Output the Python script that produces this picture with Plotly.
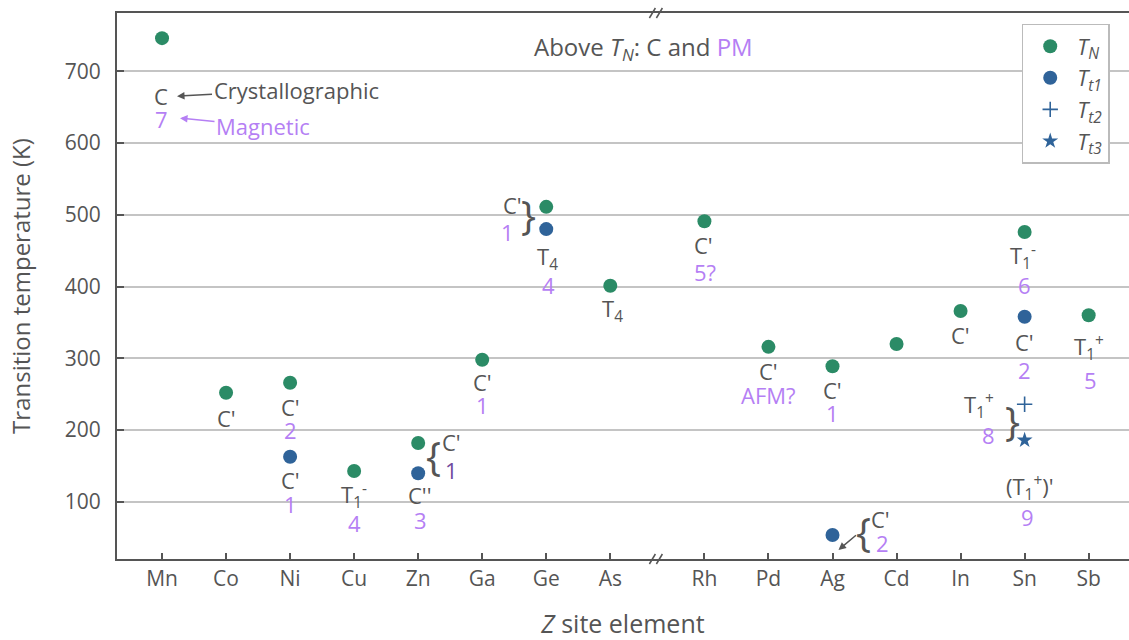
import plotly.graph_objects as go

# Z-site elements along the x axis (axis break between As and Rh)
elements = ["Mn", "Co", "Ni", "Cu", "Zn", "Ga", "Ge", "As",
            "Rh", "Pd", "Ag", "Cd", "In", "Sn", "Sb"]
BREAK_AFTER = "As"
BREAK_GAP = 0.47

# Transition temperatures (K)
t_n = [746, 252, 266, 143, 182, 298, 511, 401, 491, 316, 289, 320, 366, 476, 360]
tt1_elements = ["Ni", "Zn", "Ge", "Ag", "Sn"]
tt1 = [163, 140, 480, 54, 358]
tt2_elements = ["Sn"]
tt2 = [236]
tt3_elements = ["Sn"]
tt3 = [186]

y_ticks = [100, 200, 300, 400, 500, 600, 700]

GREEN = "#2b8b66"
BLUE = "#2f6399"
GREY = "#555555"
PURPLE = "#b57ff4"
DARK_PURPLE = "#6f4a9e"
FONT = "Open Sans"
LABEL_SIZE = 22


def xpos(el):
    i = elements.index(el)
    return i + (BREAK_GAP if i > elements.index(BREAK_AFTER) else 0)


series = {
    "TN": dict(zip(elements, t_n)),
    "Tt1": dict(zip(tt1_elements, tt1)),
    "Tt2": dict(zip(tt2_elements, tt2)),
    "Tt3": dict(zip(tt3_elements, tt3)),
}

# Crystallographic (grey) and magnetic (purple) structure labels:
# (element, series, text, role, dx px, dy px below the point)
labels = [
    ("Mn", "TN", "C", "c", -1, 58),
    ("Mn", "TN", "7", "m", -1, 81),
    ("Co", "TN", "C'", "c", 0, 25),
    ("Ni", "TN", "C'", "c", 0, 24),
    ("Ni", "TN", "2", "m", 0, 47),
    ("Ni", "Tt1", "C'", "c", 0, 23),
    ("Ni", "Tt1", "1", "m", 0, 47),
    ("Cu", "TN", "T<sub>1</sub><sup>-</sup>", "c", 0, 24),
    ("Cu", "TN", "4", "m", 0, 52),
    ("Zn", "TN", "C'", "c", 33, -1),
    ("Zn", "TN", "1", "m2", 33, 27),
    ("Zn", "Tt1", "C''", "c", 2, 22),
    ("Zn", "Tt1", "3", "m", 2, 47),
    ("Ga", "TN", "C'", "c", 0, 22),
    ("Ga", "TN", "1", "m", 0, 45),
    ("Ge", "TN", "C'", "c", -34, -2),
    ("Ge", "TN", "1", "m", -39, 25),
    ("Ge", "Tt1", "T<sub>4</sub>", "c", 1, 29),
    ("Ge", "Tt1", "4", "m", 2, 56),
    ("As", "TN", "T<sub>4</sub>", "c", 2, 24),
    ("Rh", "TN", "C'", "c", -1, 24),
    ("Rh", "TN", "5?", "m", 1, 51),
    ("Pd", "TN", "C'", "c", 0, 24),
    ("Pd", "TN", "AFM?", "m", 0, 48),
    ("Ag", "TN", "C'", "c", 0, 24),
    ("Ag", "TN", "1", "m", 0, 47),
    ("Ag", "Tt1", "C'", "c", 48, -16),
    ("Ag", "Tt1", "2", "m", 50, 8),
    ("In", "TN", "C'", "c", 0, 24),
    ("Sn", "TN", "T<sub>1</sub><sup>-</sup>", "c", -2, 25),
    ("Sn", "TN", "6", "m", 0, 53),
    ("Sn", "Tt1", "C'", "c", 0, 25),
    ("Sn", "Tt1", "2", "m", 0, 53),
    ("Sn", "Tt2", "T<sub>1</sub><sup>+</sup>", "c", -46, 1),
    ("Sn", "Tt2", "8", "m", -36, 31),
    ("Sn", "Tt3", "(T<sub>1</sub><sup>+</sup>)'", "c", 5, 47),
    ("Sn", "Tt3", "9", "m", 3, 77),
    ("Sb", "TN", "T<sub>1</sub><sup>+</sup>", "c", 0, 32),
    ("Sb", "TN", "5", "m", 2, 65),
]

# Curly braces grouping labels with a pair of transitions
braces = [
    ("Zn", "TN", "{", 15, 12),
    ("Ge", "TN", "}", -18, 8),
    ("Ag", "Tt1", "{", 31, -3),
    ("Sn", "Tt2", "}", -12, 16),
]

role_color = {"c": GREY, "m": PURPLE, "m2": DARK_PURPLE}

fig = go.Figure()
fig.add_trace(go.Scatter(
    x=[xpos(e) for e in elements], y=t_n, mode="markers",
    name="<i>T</i><sub><i>N</i></sub>",
    marker=dict(color=GREEN, size=14, symbol="circle"),
))
fig.add_trace(go.Scatter(
    x=[xpos(e) for e in tt1_elements], y=tt1, mode="markers",
    name="<i>T</i><sub><i>t1</i></sub>",
    marker=dict(color=BLUE, size=14, symbol="circle"),
))
fig.add_trace(go.Scatter(
    x=[xpos(e) for e in tt2_elements], y=tt2, mode="markers",
    name="<i>T</i><sub><i>t2</i></sub>",
    marker=dict(color=BLUE, size=11, symbol="cross-thin",
                line=dict(color=BLUE, width=1.6)),
))
fig.add_trace(go.Scatter(
    x=[xpos(e) for e in tt3_elements], y=tt3, mode="markers",
    name="<i>T</i><sub><i>t3</i></sub>",
    marker=dict(color=BLUE, size=12, symbol="star"),
))

annotations = []
for el, s, text, role, dx, dy in labels:
    annotations.append(dict(
        x=xpos(el), y=series[s][el], xref="x", yref="y",
        text=text, showarrow=False, xshift=dx, yshift=-dy,
        xanchor="center", yanchor="middle",
        font=dict(family=FONT, size=LABEL_SIZE, color=role_color[role]),
    ))
for el, s, ch, dx, dy in braces:
    annotations.append(dict(
        x=xpos(el), y=series[s][el], xref="x", yref="y",
        text=ch, showarrow=False, xshift=dx, yshift=-dy,
        xanchor="center", yanchor="middle",
        font=dict(family=FONT, size=40, color=GREY),
    ))

# Key explaining the two label kinds, next to the Mn point
annotations.append(dict(
    x=xpos("Mn"), y=series["TN"]["Mn"], xref="x", yref="y",
    xshift=15, yshift=-58, ax=119, ay=-6,
    text="Crystallographic", showarrow=True, arrowhead=2, arrowsize=1,
    arrowwidth=1.5, arrowcolor=GREY,
    font=dict(family=FONT, size=LABEL_SIZE, color=GREY),
))
annotations.append(dict(
    x=xpos("Mn"), y=series["TN"]["Mn"], xref="x", yref="y",
    xshift=18, yshift=-80, ax=83, ay=8,
    text="Magnetic", showarrow=True, arrowhead=2, arrowsize=1,
    arrowwidth=1.5, arrowcolor=PURPLE,
    font=dict(family=FONT, size=LABEL_SIZE, color=PURPLE),
))
# Arrow pointing from the Ag brace to the low-temperature point
annotations.append(dict(
    x=xpos("Ag"), y=series["Tt1"]["Ag"], xref="x", yref="y",
    xshift=6, yshift=-15, ax=19, ay=-16,
    text="", showarrow=True, arrowhead=2, arrowsize=1,
    arrowwidth=1.5, arrowcolor=GREY,
))
annotations.append(dict(
    x=0.52, y=0.936, xref="paper", yref="paper",
    text=("Above <i>T</i><sub><i>N</i></sub>: C and "
          f"<span style='color:{PURPLE}'>PM</span>"),
    showarrow=False, xanchor="center", yanchor="middle",
    font=dict(family=FONT, size=24, color=GREY),
))

# Axis-break marks on the bottom and top axis lines
break_x = xpos(BREAK_AFTER) + 0.72
shapes = []
for yp in (0, 1):
    for off in (-4, 3):
        shapes.append(dict(
            type="line", xref="x", yref="paper",
            xsizemode="pixel", ysizemode="pixel",
            xanchor=break_x, yanchor=yp,
            x0=off - 3, x1=off + 3, y0=-5, y1=5,
            line=dict(color=GREY, width=1.5),
        ))

fig.update_layout(
    width=1129, height=640,
    margin=dict(l=117, r=0, t=13, b=81),
    paper_bgcolor="white", plot_bgcolor="white",
    font=dict(family=FONT, size=21, color=GREY),
    annotations=annotations,
    shapes=shapes,
    legend=dict(
        x=0.894, y=0.98, xanchor="left", yanchor="top",
        bgcolor="white", bordercolor="#bbbbbb", borderwidth=1.5,
        font=dict(family=FONT, size=22, color=GREY),
        itemwidth=44,
    ),
    xaxis=dict(
        range=[-0.703, 15.1],
        tickvals=[xpos(e) for e in elements], ticktext=elements,
        ticks="inside", ticklen=6, tickwidth=1.5, tickcolor=GREY,
        showline=True, linecolor=GREY, linewidth=2, mirror=True,
        showgrid=False, zeroline=False,
        tickfont=dict(family=FONT, size=21, color=GREY),
        title=dict(text="<i>Z</i> site element", standoff=26,
                   font=dict(family=FONT, size=25, color=GREY)),
    ),
    yaxis=dict(
        range=[20.5, 781],
        tickvals=y_ticks,
        ticks="inside", ticklen=7, tickwidth=1.5, tickcolor=GREY,
        showline=True, linecolor=GREY, linewidth=2,
        showgrid=True, gridcolor="#c4c4c4", gridwidth=1.5,
        zeroline=False, ticklabelstandoff=10,
        tickfont=dict(family=FONT, size=21, color=GREY),
        title=dict(text="Transition temperature (K)", standoff=27,
                   font=dict(family=FONT, size=24, color=GREY)),
    ),
)

fig.write_html("out.html")
